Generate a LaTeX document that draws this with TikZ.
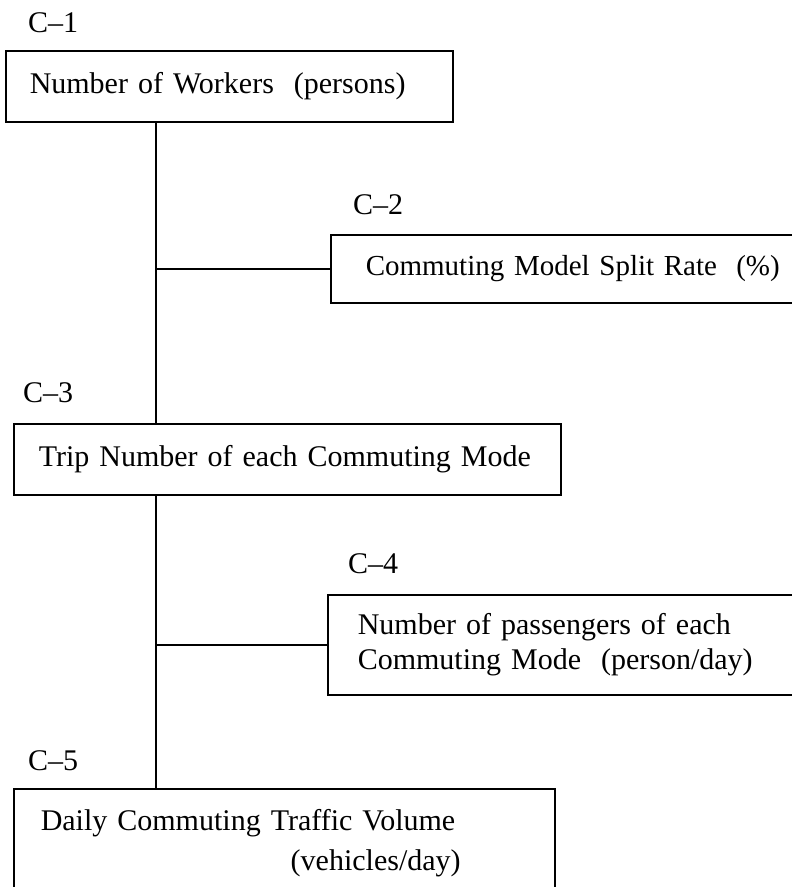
\documentclass[tikz,border=0pt]{standalone}
\usepackage{fontspec}
\setmainfont{Liberation Serif}
\begin{document}
\begin{tikzpicture}[x=1pt,y=-1pt,
  box/.style={draw, line width=1.5pt, anchor=north west, align=left, inner ysep=0pt,
              font=\fontsize{30}{36}\selectfont},
  lbl/.style={anchor=base west, inner sep=0pt, font=\fontsize{30}{36}\selectfont},
  conn/.style={line width=1.5pt}]
\useasboundingbox (0,0) rectangle (792,887);
\clip (0,0) rectangle (792,887);
\fill[white] (0,0) rectangle (792,887);
% labels
\node[lbl] (l1) at (28,32) {C–1};
\node[lbl] (l2) at (353,214) {C–2};
\node[lbl] (l3) at (23,402) {C–3};
\node[lbl] (l4) at (348,573) {C–4};
\node[lbl] (l5) at (28,770) {C–5};
% boxes
\node[box, inner xsep=24pt, text width=399pt, minimum height=71pt] (c1) at (5,50)
  {\mbox{Number of Workers\ \ (persons)}};
\node[box, inner xsep=35pt, text width=430pt, minimum height=68pt,
      font=\fontsize{29}{36}\selectfont] (c2) at (330,234)
  {\mbox{Commuting Model Split Rate\ \ (\%)}};
\node[box, inner xsep=25pt, text width=497pt, minimum height=71pt] (c3) at (13,423)
  {\mbox{Trip Number of each Commuting Mode}};
\node[box, inner xsep=30pt, text width=440pt, minimum height=100pt,
      font=\fontsize{30}{35}\selectfont] (c4) at (327,594)
  {\mbox{Number of passengers of each}\\\mbox{Commuting Mode\ \ (person/day)}};
\node[box, inner xsep=27pt, inner ysep=21pt, text width=487pt,
      font=\fontsize{30}{40}\selectfont] (c5) at (13,788)
  {\mbox{Daily Commuting Traffic Volume}\\
   \hspace*{250pt}\mbox{(vehicles/day)}};
% connectors
\coordinate (vx) at (156,0);
\draw[conn] (vx |- c1.south) -- (vx |- c3.north);
\draw[conn] (vx |- c2.west) -- (c2.west);
\draw[conn] (vx |- c3.south) -- (vx |- c5.north);
\draw[conn] (vx |- c4.west) -- (c4.west);
\end{tikzpicture}
\end{document}
